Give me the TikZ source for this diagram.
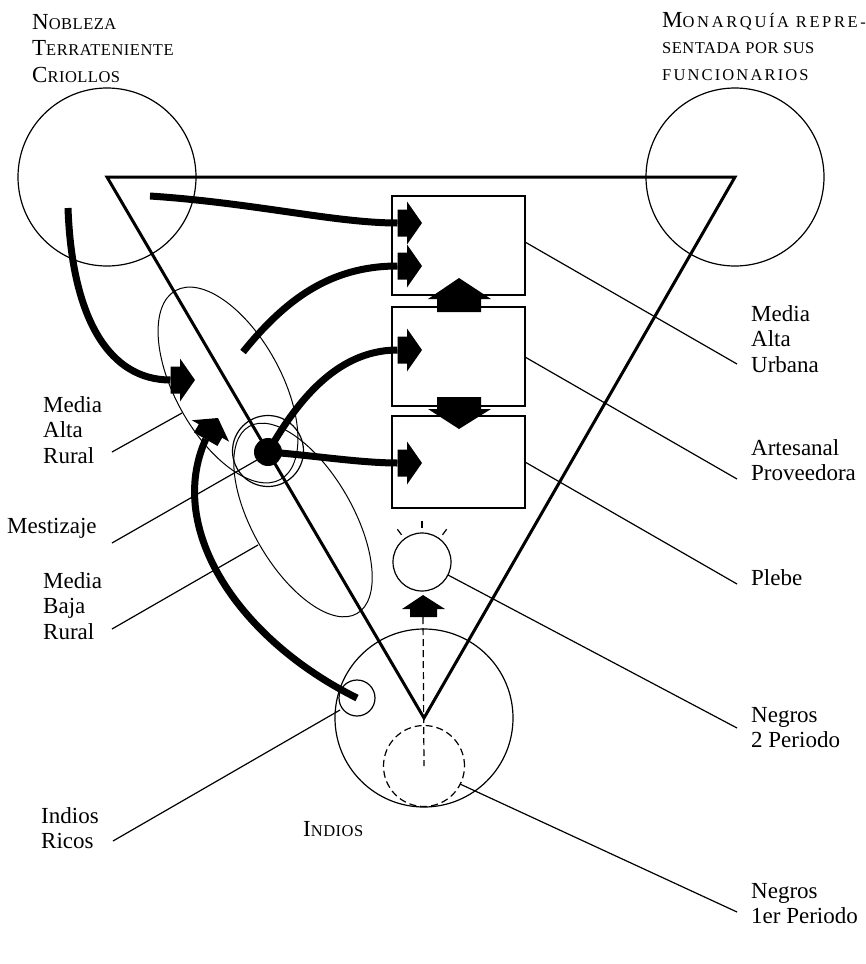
\documentclass[tikz,border=0pt]{standalone}
\usepackage{fontspec}
\setmainfont{Liberation Serif}
\newfontfamily\scf[LetterSpace=3]{Liberation Serif}
\newfontfamily\scfa[LetterSpace=16]{Liberation Serif}
\newfontfamily\scfc[LetterSpace=13]{Liberation Serif}
\usetikzlibrary{shapes.geometric}
\newcommand\bigsc[1]{{\fontsize{23}{26.5}\selectfont #1}}
\newcommand\smsc[1]{{\scf\fontsize{16.5}{26.5}\selectfont #1}}
\newcommand\smsca[1]{{\scfa\fontsize{16.5}{26.5}\selectfont #1}}
\newcommand\smscc[1]{{\scfc\fontsize{16.5}{26.5}\selectfont #1}}
\newcommand\lbltab[1]{\begin{tabular}[t]{@{}l@{}}#1\end{tabular}}
\begin{document}
\begin{tikzpicture}[x=1pt,y=-1pt,
  circ/.style={draw,circle,inner sep=0,line width=1.2pt},
  ell/.style={draw,ellipse,inner sep=0,line width=1pt},
  box/.style={draw,rectangle,inner sep=0,line width=1.3pt},
  tri/.style={line width=3pt,line join=miter},
  leader/.style={line width=1.2pt},
  shaft/.style={line width=7pt},
  dline/.style={line width=1.2pt,dash pattern=on 7pt off 4pt},
  lbl/.style={font=\fontsize{23}{25.5}\selectfont,inner sep=0,anchor=base west},
  hd/.style={font=\fontsize{23}{26.5}\selectfont,inner sep=0,anchor=base west},
  bhead/.pic={\fill[black] (0,0) -- (-15,-21.5) -- (-15,-13.5) -- (-24.5,-13.5) -- (-24.5,13.5) -- (-15,13.5) -- (-15,21.5) -- cycle;}
]
\useasboundingbox (0,0) rectangle (866,964);

% big circles
\node[circ,minimum size=178] (nob) at (107,177) {};
\node[circ,minimum size=178] (mon) at (735,177) {};
\node[circ,minimum size=178] (ind) at (424,718) {};

% triangle
\draw[tri] (nob.center) -- (mon.center) -- (ind.center) -- cycle;

% ellipses
\node[ell,minimum width=216,minimum height=106,rotate=-61] (mar) at (228,385) {};
\node[ell,minimum width=216,minimum height=100,rotate=-60] (mbr) at (303,520) {};

% mestizaje
\node[circ,minimum size=71] (mes) at (268,451) {};
\node[fill,circle,minimum size=28,inner sep=0] (dot) at (268,452) {};

% boxes
\node[box,minimum width=133,minimum height=99] (b1) at (458.5,245.5) {};
\node[box,minimum width=133,minimum height=99] (b2) at (458.5,356.5) {};
\node[box,minimum width=133,minimum height=92] (b3) at (458.5,462) {};

% block arrows between boxes
\fill (437,312) -- (437,299) -- (428,299) -- (459,278) -- (491,299) -- (481,299) -- (481,312) -- cycle;
\fill (437,397) -- (481,397) -- (481,409) -- (491,409) -- (459,429) -- (428,409) -- (437,409) -- cycle;

% negros 2 periodo
\node[circ,minimum size=58] (ng2) at (422,562) {};
\foreach \a in {233,270,307}
  \draw[leader] ([shift={(\a:34)}]ng2.center) -- ([shift={(\a:41)}]ng2.center);
\fill (410,617) -- (410,609) -- (402,609) -- (423,595) -- (445,609) -- (437,609) -- (437,617) -- cycle;

% negros 1er periodo, indios ricos
\node[circ,dline,minimum size=81] (ng1) at (424,766) {};
\node[circ,minimum size=36] (ric) at (357,698) {};
\coordinate (ua) at (423,617);
\draw[dline] (ua) -- (ng1.center);

% arrow tips
\coordinate (t1) at (422,223);
\coordinate (t2) at (422,266);
\coordinate (t3) at (422,350);
\coordinate (t4) at (422,463);
\coordinate (t5) at (195,380);
\coordinate (t6) at (218,418);
\coordinate (s1) at (150,196);
\coordinate (s2) at (243,352);
\coordinate (s5) at (68,208);

\draw[shaft] (s1) .. controls (255,203) and (335,223) .. ([xshift=-24.5]t1);
\draw[shaft] (s2) .. controls (285,300) and (330,266) .. ([xshift=-24.5]t2);
\draw[shaft] (dot.center) .. controls (295,405) and (335,350) .. ([xshift=-24.5]t3);
\draw[shaft] (dot.center) .. controls (310,455) and (360,463) .. ([xshift=-24.5]t4);
\draw[shaft] (s5) .. controls (72,320) and (110,380) .. ([xshift=-24.5]t5);
\draw[shaft] (ric.center) .. controls (240,640) and (165,530) .. (205.75,439.2);

\pic at (t1) {bhead};
\pic at (t2) {bhead};
\pic at (t3) {bhead};
\pic at (t4) {bhead};
\pic at (t5) {bhead};
\pic[rotate=60] at (t6) {bhead};

% labels
\node[hd] (hnob) at (32,29) {\lbltab{\bigsc{N}\smsc{OBLEZA}\\\bigsc{T}\smsc{ERRATENIENTE}\\\bigsc{C}\smsc{RIOLLOS}}};
\node[hd] (hmon) at (662,27) {\lbltab{\bigsc{M}\smsca{ONARQUÍA REPRE-}\\\smsc{SENTADA POR SUS}\\\smscc{FUNCIONARIOS}}};
\node[hd] (hind) at (303,836) {\bigsc{I}\smsc{NDIOS}};

\node[lbl] (lmau) at (751,321) {\lbltab{Media\\Alta\\Urbana}};
\node[lbl] (lap) at (751,455) {\lbltab{Artesanal\\Proveedora}};
\node[lbl] (lpl) at (751,585) {Plebe};
\node[lbl] (ln2) at (751,722) {\lbltab{Negros\\2 Periodo}};
\node[lbl] (ln1) at (751,898) {\lbltab{Negros\\1er Periodo}};
\node[lbl] (lmar) at (43,412) {\lbltab{Media\\Alta\\Rural}};
\node[lbl] (lmes) at (7,533) {Mestizaje};
\node[lbl] (lmbr) at (43,588) {\lbltab{Media\\Baja\\Rural}};
\node[lbl] (lric) at (41,823) {\lbltab{Indios\\Ricos}};

% leaders
\coordinate (p1a) at (525,242); \coordinate (p1b) at (737,364);
\coordinate (p2a) at (525,357); \coordinate (p2b) at (737,479);
\coordinate (p3a) at (525,462); \coordinate (p3b) at (737,584);
\coordinate (p4a) at (448,575); \coordinate (p4b) at (737,728);
\coordinate (p5a) at (460,784); \coordinate (p5b) at (737,912);
\coordinate (q1a) at (112,452); \coordinate (q1b) at (182,413);
\coordinate (q2a) at (112,543); \coordinate (q2b) at (257,460);
\coordinate (q3a) at (112,629); \coordinate (q3b) at (258,545);
\coordinate (q4a) at (113,841); \coordinate (q4b) at (340,710);
\foreach \s in {p1,p2,p3,p4,p5,q1,q2,q3,q4}
  \draw[leader] (\s a) -- (\s b);
\end{tikzpicture}
\end{document}
